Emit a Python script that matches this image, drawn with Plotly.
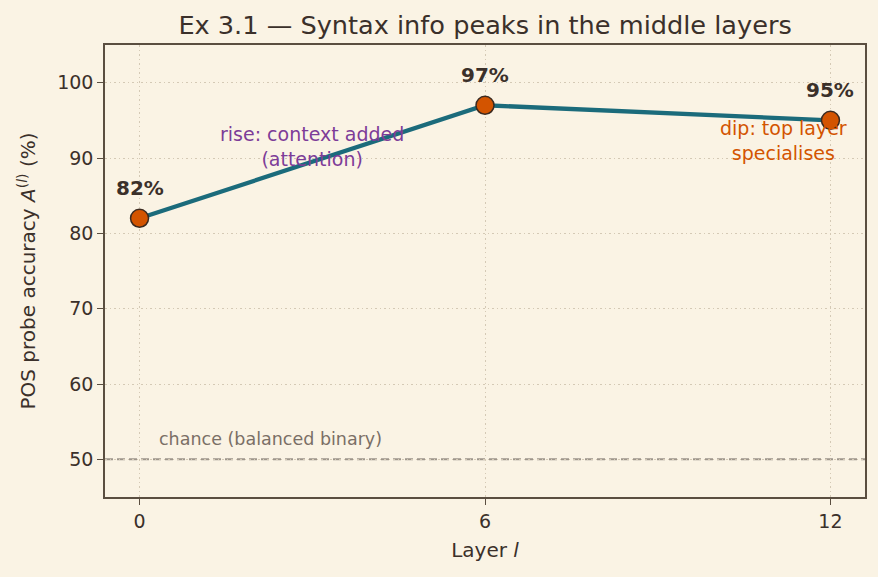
import plotly.graph_objects as go

layers = [0, 6, 12]
accuracy = [82, 97, 95]
point_labels = ["82%", "97%", "95%"]
chance_level = 50
x_ticks = [0, 6, 12]
y_ticks = [50, 60, 70, 80, 90, 100]

BG = "#faf3e4"
TXT = "#3b302a"
FONT = "DejaVu Sans"

fig = go.Figure()
fig.add_trace(go.Scatter(
    x=layers, y=accuracy, mode="lines+markers",
    line=dict(color="#1b6b7b", width=4.3),
    marker=dict(size=18, color="#d35400", line=dict(color="#3b2a20", width=1.5)),
    showlegend=False, hoverinfo="skip",
))

fig.add_shape(type="line", xref="paper", x0=0, x1=1, yref="y", y0=chance_level, y1=chance_level,
              line=dict(color="#9d958a", width=2, dash="8px,4px"), layer="below")

for x, y, t in zip(layers, accuracy, point_labels):
    fig.add_annotation(x=x, y=y, text=f"<b>{t}</b>", showarrow=False, yshift=30,
                       font=dict(family=FONT, size=20, color=TXT))

fig.add_annotation(x=3.0, y=91.5, text="rise: context added<br>(attention)", showarrow=False,
                   font=dict(family=FONT, size=19, color="#7d3c98"))
fig.add_annotation(x=11.18, y=92.3, text="dip: top layer<br>specialises", showarrow=False,
                   font=dict(family=FONT, size=19, color="#d35400"))
fig.add_annotation(x=0.31, y=52.7, text="chance (balanced binary)", showarrow=False, xanchor="left",
                   font=dict(family=FONT, size=17.5, color="#7a6f66"))

axis_common = dict(
    showline=True, linecolor="#5a4e40", linewidth=1.5, mirror=True,
    showgrid=True, gridcolor="#d4c9b5", griddash="1.5px,3px", gridwidth=1.3,
    ticks="outside", ticklen=6, tickcolor="#5a4e40", tickwidth=1.3,
    tickfont=dict(family=FONT, size=19, color=TXT), zeroline=False,
)

fig.update_layout(
    width=878, height=577,
    paper_bgcolor=BG, plot_bgcolor=BG,
    margin=dict(l=105, r=13, t=45, b=80),
    title=dict(text="Ex 3.1 — Syntax info peaks in the middle layers", x=0.5525, xanchor="center",
               y=0.957, yanchor="middle", font=dict(family=FONT, size=25.6, color=TXT)),
    xaxis=dict(range=[-0.6, 12.6], tickvals=x_ticks,
               title=dict(text="Layer <i>l</i>", font=dict(family=FONT, size=20, color=TXT), standoff=12),
               **axis_common),
    yaxis=dict(range=[45, 105], tickvals=y_ticks,
               title=dict(text="POS probe accuracy <i>A</i><sup>(<i>l</i>)</sup> (%)",
                          font=dict(family=FONT, size=20, color=TXT), standoff=16),
               **axis_common),
)

fig.write_html("out.html")
